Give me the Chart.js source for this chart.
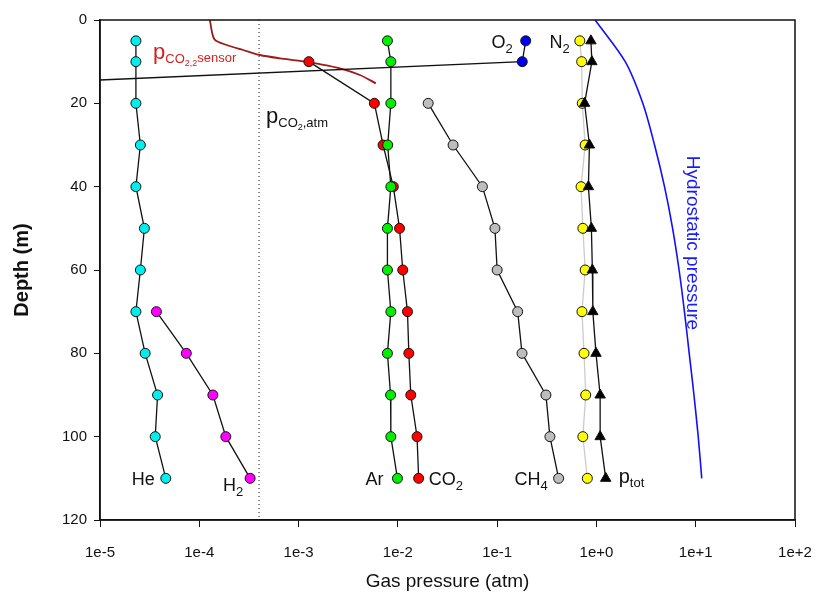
<!DOCTYPE html>
<html>
<head>
<meta charset="utf-8">
<script src="https://cdn.jsdelivr.net/npm/chart.js@4.4.1/dist/chart.umd.min.js"></script>
<style>
  html, body { margin: 0; padding: 0; background: #fff; }
  #wrap { width: 818px; height: 605px; position: relative; }
</style>
</head>
<body>
<div id="wrap"><canvas id="gasChart"></canvas></div>
<script>
// Depth profile data
const depths = [5, 10, 20, 30, 40, 50, 60, 70, 80, 90, 100, 110];
const he = [2.3e-5, 2.3e-5, 2.3e-5, 2.55e-5, 2.3e-5, 2.8e-5, 2.55e-5, 2.3e-5, 2.85e-5, 3.8e-5, 3.6e-5, 4.6e-5];
const ar = [7.85e-3, 8.5e-3, 8.5e-3, 7.9e-3, 8.5e-3, 7.85e-3, 7.85e-3, 8.5e-3, 7.85e-3, 8.45e-3, 8.5e-3, 9.9e-3];
const n2 = [0.68, 0.71, 0.72, 0.77, 0.70, 0.73, 0.77, 0.715, 0.75, 0.78, 0.73, 0.81];
const ptot = [0.88, 0.90, 0.76, 0.85, 0.83, 0.89, 0.91, 0.92, 0.99, 1.09, 1.09, 1.24];

const h2Depths = [70, 80, 90, 100, 110];
const h2 = [3.7e-5, 7.4e-5, 1.37e-4, 1.85e-4, 3.25e-4];

const co2Depths = [10, 20, 30, 40, 50, 60, 70, 80, 90, 100, 110];
const co2 = [1.27e-3, 5.8e-3, 7.1e-3, 9.0e-3, 1.04e-2, 1.12e-2, 1.25e-2, 1.29e-2, 1.35e-2, 1.56e-2, 1.62e-2];

const ch4Depths = [20, 30, 40, 50, 60, 70, 80, 90, 100, 110];
const ch4 = [2.02e-2, 3.6e-2, 7.1e-2, 9.5e-2, 0.10, 0.161, 0.178, 0.31, 0.34, 0.416];

// O2 drops below the axis range under 10 m
const o2Depths = [5, 10, 15];
const o2 = [0.194, 0.179, 2.6e-6];

// CO2 sensor trace
const sensorDepths = [0, 3.2, 4.8, 6, 7.2, 8.4, 9.2, 9.8, 10.6, 11.6, 13.2, 15.2];
const sensorCo2 = [1.28e-4, 1.35e-4, 1.44e-4, 1.89e-4, 2.77e-4, 4.08e-4, 6.5e-4, 1.03e-3, 1.64e-3, 2.61e-3, 4.15e-3, 6.0e-3];

// hydrostatic pressure
const hydroDepths = [0, 10, 20, 30, 40, 50, 60, 70, 80, 90, 100, 110];
const hydroPressure = [0.97, 1.95, 2.93, 3.85, 4.85, 5.85, 6.8, 7.7, 8.6, 9.6, 10.6, 11.5];

const atmCo2 = 4e-4;
const atmDepths = [0, 120];

const xTicks = [1e-5, 1e-4, 1e-3, 1e-2, 1e-1, 1, 10, 100];
const xTickLabels = ['1e-5', '1e-4', '1e-3', '1e-2', '1e-1', '1e+0', '1e+1', '1e+2'];

const FONT = "'Liberation Sans', Arial, sans-serif";

function pts(xs, ys) {
    return xs.map((v, i) => ({ x: v, y: ys[i] }));
}

function markerSet(label, xs, ys, fill, lineColor, style) {
    return {
        label: label,
        data: pts(xs, ys),
        showLine: true,
        borderColor: lineColor,
        borderWidth: 1.3,
        backgroundColor: fill,
        pointBackgroundColor: fill,
        pointBorderColor: '#111',
        pointBorderWidth: 1,
        pointRadius: style === 'triangle' ? 6 : 5,
        pointStyle: style || 'circle',
        tension: 0
    };
}

// draw text made of pieces with different sizes / baseline shifts
function rich(ctx, parts, x, y, align, color) {
    ctx.save();
    ctx.fillStyle = color;
    ctx.textBaseline = 'alphabetic';
    ctx.textAlign = 'left';
    let w = 0;
    parts.forEach(p => {
        ctx.font = p[1] + 'px ' + FONT;
        w += ctx.measureText(p[0]).width;
    });
    let cx = align === 'right' ? x - w : x;
    parts.forEach(p => {
        ctx.font = p[1] + 'px ' + FONT;
        ctx.fillText(p[0], cx, y + p[2]);
        cx += ctx.measureText(p[0]).width;
    });
    ctx.restore();
}

const annotations = {
    id: 'annotations',
    afterDatasetsDraw(chart) {
        const { ctx, chartArea, scales: { x, y } } = chart;
        const at = (xs, ys, i) => [x.getPixelForValue(xs[i]), y.getPixelForValue(ys[i])];
        let p;

        p = at(he, depths, 11);
        rich(ctx, [['He', 18, 0]], p[0] - 11, p[1] + 7, 'right', '#111');
        p = at(h2, h2Depths, 4);
        rich(ctx, [['H', 18, 0], ['2', 13, 5]], p[0] - 7, p[1] + 13, 'right', '#111');
        p = at(ar, depths, 11);
        rich(ctx, [['Ar', 18, 0]], p[0] - 14, p[1] + 7, 'right', '#111');
        p = at(co2, co2Depths, 10);
        rich(ctx, [['CO', 18, 0], ['2', 13, 5]], p[0] + 10, p[1] + 7, 'left', '#111');
        p = at(ch4, ch4Depths, 9);
        rich(ctx, [['CH', 18, 0], ['4', 13, 5]], p[0] - 11, p[1] + 7, 'right', '#111');
        p = at(ptot, depths, 11);
        rich(ctx, [['p', 20, 0], ['tot', 13, 4]], p[0] + 13, p[1] + 5, 'left', '#111');
        p = at(o2, o2Depths, 0);
        rich(ctx, [['O', 18, 0], ['2', 13, 5]], p[0] - 13, p[1] + 7, 'right', '#111');
        p = at(n2, depths, 0);
        rich(ctx, [['N', 18, 0], ['2', 13, 5]], p[0] - 10, p[1] + 7, 'right', '#111');

        // sensor and atmospheric CO2 labels
        rich(ctx, [['p', 22, 0], ['CO', 13, 4], ['2,2', 9, 7], ['sensor', 13, 3]],
            x.getPixelForValue(3.42e-5), y.getPixelForValue(9.4), 'left', '#d42020');
        rich(ctx, [['p', 22, 0], ['CO', 13, 4], ['2', 9, 7], [',atm', 13, 4]],
            x.getPixelForValue(4.7e-4), y.getPixelForValue(24.6), 'left', '#111');

        // hydrostatic pressure label, rotated
        ctx.save();
        ctx.translate(x.getPixelForValue(9.2), y.getPixelForValue(53.5));
        ctx.rotate(Math.PI / 2);
        ctx.font = '19px ' + FONT;
        ctx.fillStyle = '#1a1aff';
        ctx.textAlign = 'center';
        ctx.textBaseline = 'middle';
        ctx.fillText('Hydrostatic pressure', 0, 0);
        ctx.restore();

        // frame
        ctx.save();
        ctx.strokeStyle = '#111';
        ctx.lineWidth = 1.5;
        ctx.strokeRect(chartArea.left, chartArea.top, chartArea.right - chartArea.left, chartArea.bottom - chartArea.top);
        ctx.restore();
    }
};

document.addEventListener('DOMContentLoaded', function() {
    const canvas = document.getElementById('gasChart');

    new Chart(canvas, {
        type: 'scatter',
        data: {
            datasets: [
                markerSet('ptot', ptot, depths, '#000', '#111', 'triangle'),
                markerSet('N2', n2, depths, '#ffff00', '#cccccc'),
                markerSet('O2', o2, o2Depths, '#0000ee', '#111'),
                markerSet('Ar', ar, depths, '#00ee00', '#111'),
                markerSet('CO2', co2, co2Depths, '#ff0000', '#111'),
                markerSet('CH4', ch4, ch4Depths, '#bdbdbd', '#111'),
                markerSet('H2', h2, h2Depths, '#ff00ff', '#111'),
                markerSet('He', he, depths, '#00eeee', '#111'),
                {
                    label: 'pCO2 sensor',
                    data: pts(sensorCo2, sensorDepths),
                    showLine: true,
                    borderColor: '#9e1a1a',
                    borderWidth: 1.8,
                    pointRadius: 0,
                    tension: 0.3
                },
                {
                    label: 'Hydrostatic pressure',
                    data: pts(hydroPressure, hydroDepths),
                    showLine: true,
                    borderColor: '#1010ff',
                    borderWidth: 1.6,
                    pointRadius: 0,
                    tension: 0.3
                },
                {
                    label: 'pCO2 atm',
                    data: pts([atmCo2, atmCo2], atmDepths),
                    showLine: true,
                    borderColor: '#444',
                    borderWidth: 1.2,
                    borderDash: [1, 3],
                    pointRadius: 0
                }
            ]
        },
        options: {
            responsive: true,
            maintainAspectRatio: false,
            animation: false,
            layout: { padding: { top: 20, right: 23, left: 0, bottom: 0 } },
            plugins: {
                legend: { display: false },
                tooltip: { enabled: false }
            },
            scales: {
                x: {
                    type: 'logarithmic',
                    min: 1e-5,
                    max: 100,
                    afterBuildTicks: function(scale) {
                        scale.ticks = xTicks.map(v => ({ value: v }));
                    },
                    afterFit: function(scale) {
                        scale.height = 85;
                        scale.paddingLeft = 0;
                        scale.paddingRight = 0;
                    },
                    ticks: {
                        autoSkip: false,
                        maxRotation: 0,
                        padding: 17,
                        color: '#111',
                        font: { family: FONT, size: 15 },
                        callback: function(value, index) { return xTickLabels[index]; }
                    },
                    grid: { drawOnChartArea: false, drawTicks: true, tickLength: 7, color: '#111' },
                    border: { display: true, color: '#111', width: 1.5 },
                    title: {
                        display: true,
                        text: 'Gas pressure (atm)',
                        color: '#111',
                        font: { family: FONT, size: 19 },
                        padding: { top: 0, bottom: 12 }
                    }
                },
                y: {
                    type: 'linear',
                    reverse: true,
                    min: 0,
                    max: 120,
                    afterFit: function(scale) {
                        scale.width = 100;
                        scale.paddingTop = 0;
                        scale.paddingBottom = 0;
                    },
                    ticks: {
                        stepSize: 20,
                        padding: 7,
                        color: '#111',
                        font: { family: FONT, size: 15 }
                    },
                    grid: { drawOnChartArea: false, drawTicks: true, tickLength: 6, color: '#111' },
                    border: { display: true, color: '#111', width: 1.5 },
                    title: {
                        display: true,
                        text: 'Depth (m)',
                        color: '#111',
                        font: { family: FONT, size: 20, weight: 'bold' },
                        padding: { top: 10, bottom: 0 }
                    }
                }
            }
        },
        plugins: [annotations]
    });
});
</script>
</body>
</html>
